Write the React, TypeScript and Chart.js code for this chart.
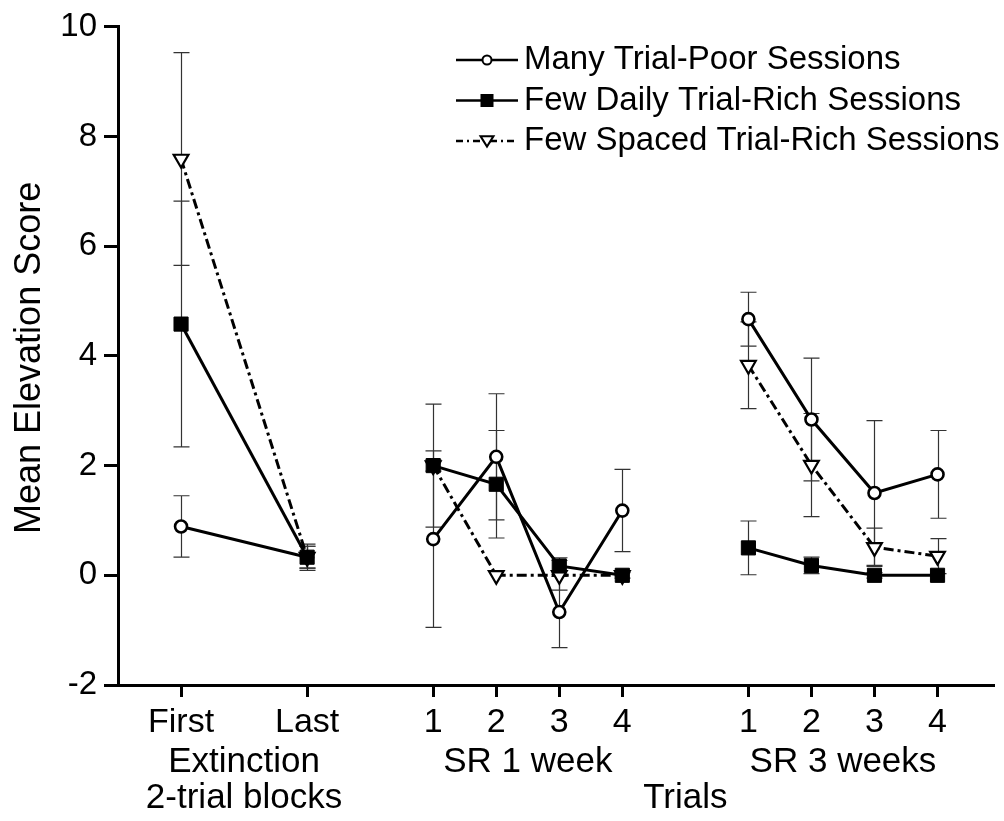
import React, { useEffect, useRef } from 'react';
import { Chart, registerables } from 'chart.js';

Chart.register(...registerables);

// ---------- data ----------
const xPositions = [0, 2, 4, 5, 6, 7, 9, 10, 11, 12];
const pointGroups = [0, 0, 1, 1, 1, 1, 2, 2, 2, 2];
const tickLabels = ['First', 'Last', '1', '2', '3', '4', '1', '2', '3', '4'];
const groupLabels = ['Extinction', 'SR 1 week', 'SR 3 weeks'];
const groupCenters = [1, 5.5, 10.5];
const bottomLabels = ['2-trial blocks', 'Trials'];
const bottomCenters = [1, 8];
const yTitle = 'Mean Elevation Score';

const seriesNames = [
  'Many Trial-Poor Sessions',
  'Few Daily Trial-Rich Sessions',
  'Few Spaced Trial-Rich Sessions',
];

const poorValues = [0.89, 0.33, 0.66, 2.16, -0.67, 1.18, 4.67, 2.84, 1.5, 1.84];
const poorErrors = [0.56, 0.24, 1.61, 1.15, 0.65, 0.75, 0.49, 1.12, 1.32, 0.8];

const dailyValues = [4.58, 0.33, 2.0, 1.66, 0.17, 0.0, 0.5, 0.18, 0.0, 0.0];
const dailyErrors = [2.24, 0.2, 0.1, 0.98, 0.15, 0.05, 0.49, 0.15, 0.05, 0.0];

const spacedValues = [7.59, 0.33, 2.0, 0.0, 0.0, 0.0, 3.83, 2.01, 0.51, 0.35];
const spacedErrors = [1.94, 0.2, 1.12, 0.0, 0.27, 0.0, 0.79, 0.94, 0.35, 0.32];

const yMin = -2;
const yMax = 10;
const yStep = 2;
const xMin = -1;
const xMax = 12.88;

// ---------- styling ----------
const FONT = '"Liberation Sans", Arial, Helvetica, sans-serif';
const FS = 33;

const seriesList = [
  { name: seriesNames[0], values: poorValues, errors: poorErrors, marker: 'circle', dash: [] as number[] },
  { name: seriesNames[1], values: dailyValues, errors: dailyErrors, marker: 'square', dash: [] as number[] },
  { name: seriesNames[2], values: spacedValues, errors: spacedErrors, marker: 'triangle', dash: [10, 4, 3, 4] },
];

function drawMarker(ctx: CanvasRenderingContext2D, kind: string, x: number, y: number, s: number) {
  ctx.save();
  ctx.strokeStyle = '#000';
  ctx.fillStyle = '#fff';
  ctx.setLineDash([]);
  if (kind === 'circle') {
    ctx.lineWidth = 2;
    ctx.beginPath();
    ctx.arc(x, y, s, 0, Math.PI * 2);
    ctx.fill();
    ctx.stroke();
  } else if (kind === 'square') {
    ctx.fillStyle = '#000';
    ctx.fillRect(x - s, y - s, 2 * s, 2 * s);
  } else {
    ctx.lineWidth = 2;
    ctx.beginPath();
    ctx.moveTo(x - s, y - s * 0.75);
    ctx.lineTo(x + s, y - s * 0.75);
    ctx.lineTo(x, y + s * 0.85);
    ctx.closePath();
    ctx.fill();
    ctx.stroke();
  }
  ctx.restore();
}

const annotationsPlugin = {
  id: 'annotations',
  beforeDatasetsDraw(chart: any) {
    const { ctx, scales } = chart;
    const xs = scales.x;
    const ys = scales.y;
    ctx.save();
    ctx.strokeStyle = '#333';
    ctx.lineWidth = 1.2;
    seriesList.forEach((s) => {
      s.values.forEach((v, i) => {
        const e = s.errors[i];
        if (!e) return;
        const px = Math.round(xs.getPixelForValue(xPositions[i])) + 0.5;
        const top = ys.getPixelForValue(v + e);
        const bot = ys.getPixelForValue(v - e);
        ctx.beginPath();
        ctx.moveTo(px, top);
        ctx.lineTo(px, bot);
        ctx.moveTo(px - 8, top);
        ctx.lineTo(px + 8, top);
        ctx.moveTo(px - 8, bot);
        ctx.lineTo(px + 8, bot);
        ctx.stroke();
      });
    });
    ctx.restore();
  },
  afterDraw(chart: any) {
    const { ctx, scales, chartArea } = chart;
    const xs = scales.x;
    ctx.save();
    ctx.fillStyle = '#000';
    ctx.font = `35px ${FONT}`;
    ctx.textAlign = 'center';
    ctx.textBaseline = 'middle';
    groupLabels.forEach((t, i) => {
      ctx.fillText(t, xs.getPixelForValue(groupCenters[i]), chartArea.bottom + 77);
    });
    bottomLabels.forEach((t, i) => {
      ctx.fillText(t, xs.getPixelForValue(bottomCenters[i]), chartArea.bottom + 113);
    });
    // y title
    ctx.save();
    ctx.font = `36px ${FONT}`;
    ctx.translate(30, (chartArea.top + chartArea.bottom) / 2 + 2);
    ctx.rotate(-Math.PI / 2);
    ctx.fillText(yTitle, 0, 0);
    ctx.restore();

    // legend
    ctx.font = `${FS}px ${FONT}`;
    const lx0 = 456;
    const lx1 = 518;
    const ly0 = 60;
    const gap = 40.5;
    seriesList.forEach((s, i) => {
      const y = ly0 + i * gap;
      ctx.save();
      ctx.strokeStyle = '#000';
      ctx.lineWidth = 2.5;
      ctx.setLineDash(s.dash.length ? [7, 4, 2, 4] : []);
      ctx.beginPath();
      ctx.moveTo(lx0, y);
      ctx.lineTo(lx1, y);
      ctx.stroke();
      ctx.restore();
      const mx = (lx0 + lx1) / 2;
      drawMarker(ctx, s.marker, mx, y, s.marker === 'circle' ? 4.5 : 6.5);
      ctx.textAlign = 'left';
      ctx.fillText(s.name, 524, y);
    });
    ctx.restore();
  },
};

export default function App() {
  const ref = useRef<HTMLCanvasElement | null>(null);

  useEffect(() => {
    if (!ref.current) return;
    const mk = (s: any, order: number) => {
      const base: any = {
        label: s.name,
        data: xPositions.map((x, i) => ({ x, y: s.values[i] })),
        showLine: true,
        borderColor: '#000',
        borderWidth: 3,
        borderDash: s.dash,
        tension: 0,
        clip: false,
        order,
        pointBorderColor: '#000',
        pointHoverRadius: 0,
        segment: {
          borderColor: (c: any) =>
            pointGroups[c.p0DataIndex] !== pointGroups[c.p1DataIndex] ? 'rgba(0,0,0,0)' : '#000',
        },
      };
      if (s.marker === 'circle') {
        Object.assign(base, { pointStyle: 'circle', pointRadius: 6, pointBorderWidth: 2.6, pointBackgroundColor: '#fff' });
      } else if (s.marker === 'square') {
        Object.assign(base, { pointStyle: 'rect', pointRadius: 10, pointBorderWidth: 1, pointBackgroundColor: '#000' });
      } else {
        Object.assign(base, { pointStyle: 'triangle', pointRadius: 8.5, pointRotation: 180, pointBorderWidth: 2.2, pointBackgroundColor: '#fff' });
      }
      return base;
    };

    const chart = new Chart(ref.current, {
      type: 'scatter',
      data: {
        datasets: [mk(seriesList[1], 0), mk(seriesList[0], 1), mk(seriesList[2], 2)],
      },
      options: {
        responsive: false,
        animation: false,
        devicePixelRatio: 1,
        layout: { padding: { top: 24, right: 0, left: 0, bottom: 0 } },
        plugins: {
          legend: { display: false },
          tooltip: { enabled: false },
        },
        events: [],
        scales: {
          x: {
            type: 'linear',
            min: xMin,
            max: xMax,
            afterBuildTicks: (scale: any) => {
              scale.ticks = xPositions.map((v) => ({ value: v }));
            },
            afterFit: (scale: any) => {
              scale.height = 136;
            },
            ticks: {
              autoSkip: false,
              maxRotation: 0,
              color: '#000',
              padding: 5,
              font: { size: 34, family: FONT },
              callback: (_v: any, i: number) => tickLabels[i],
            },
            grid: {
              drawOnChartArea: false,
              drawTicks: true,
              tickLength: 12,
              tickWidth: 3,
              tickColor: '#000',
              color: '#000',
              lineWidth: 3,
            },
            border: { display: true, color: '#000', width: 3 },
          },
          y: {
            type: 'linear',
            min: yMin,
            max: yMax,
            afterFit: (scale: any) => {
              scale.width = 118;
            },
            ticks: {
              stepSize: yStep,
              color: '#000',
              padding: 7,
              font: { size: FS, family: FONT },
            },
            grid: {
              drawOnChartArea: false,
              drawTicks: true,
              tickLength: 14,
              tickWidth: 3,
              tickColor: '#000',
              color: '#000',
              lineWidth: 3,
            },
            border: { display: true, color: '#000', width: 3 },
          },
        },
      },
      plugins: [annotationsPlugin],
    } as any);

    return () => chart.destroy();
  }, []);

  return (
    <div style={{ position: 'absolute', left: 0, top: 0, width: 1004, height: 821, background: '#fff' }}>
      <canvas ref={ref} width={1004} height={821} style={{ display: 'block' }} />
    </div>
  );
}
